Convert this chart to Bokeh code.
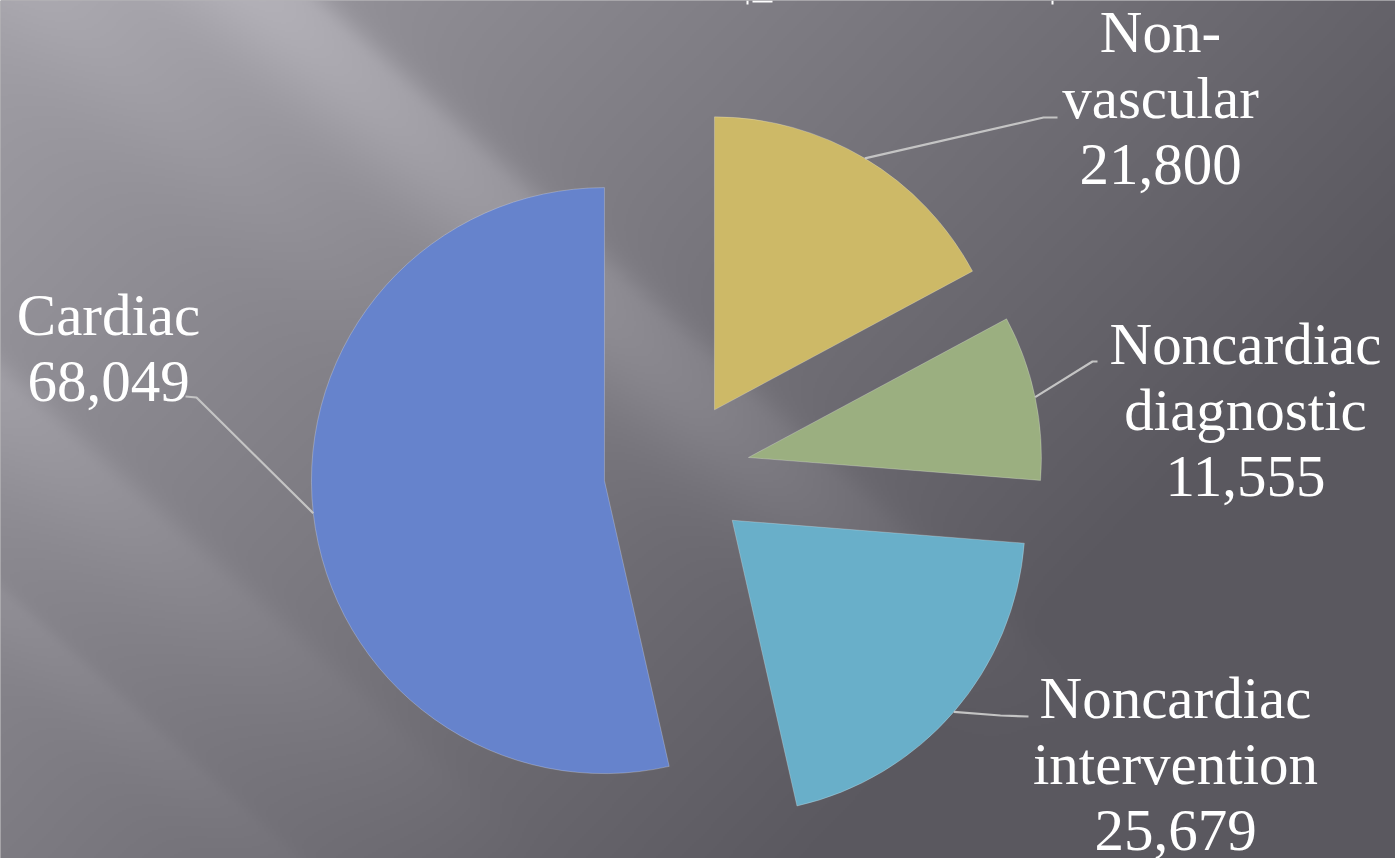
import math
import numpy as np
from bokeh.plotting import figure
from bokeh.models import Range1d, ColumnDataSource
from bokeh.core.properties import value
from bokeh.embed import file_html
from bokeh.resources import INLINE

# ---------------- data ----------------
categories = ["Non-vascular", "Noncardiac diagnostic", "Noncardiac intervention", "Cardiac"]
name_lines = [["Non-", "vascular"], ["Noncardiac", "diagnostic"], ["Noncardiac", "intervention"], ["Cardiac"]]
values = [21800, 11555, 25679, 68049]
colors = ["#CDB967", "#9BAF80", "#69AFC9", "#6683CC"]

# ---------------- layout (screen px, y down) ----------------
W, H = 1395, 858
CX, CY = 676.5, 472.0      # pie centre
R = 293                    # radius
EXPLODE = 73               # explosion distance
LINE_GAP = 66.5            # label line spacing
TEXT_SHIFT = -19           # baseline correction for renderer
# label block: centre x, first baseline y, elbow point, end point of leader
label_layout = [
    dict(x=1160, y=50, elbow=(1043, 117), end=(1057, 117)),
    dict(x=1245, y=362, elbow=(1092, 361), end=(1097, 361)),
    dict(x=1175, y=716, elbow=(1000, 715), end=(1028, 716)),
    dict(x=108, y=333, elbow=(196, 397), end=(185, 396)),
]

def Y(y):
    return H - y

p = figure(width=W, height=H, x_range=Range1d(0, W), y_range=Range1d(0, H),
           output_backend="svg", toolbar_location=None, min_border=0)
p.axis.visible = False
p.grid.visible = False
p.outline_line_color = None
p.background_fill_color = "#6a686e"
p.border_fill_color = "#6a686e"

# ---------------- background (gradient + diagonal light streaks) ----------------
hw, hh = W // 2, H // 2
xs = (np.arange(hw) + 0.5) * (W / hw)
ys = (np.arange(hh) + 0.5) * (H / hh)
X, Yg = np.meshgrid(xs, ys)
t = np.clip(0.85 * X / W + 0.5 * Yg / H, 0, 1)
light = np.array([160.0, 158.0, 165.0])
dark = np.array([90.0, 88.0, 95.0])
base = light[None, None, :] * (1 - t[..., None]) + dark[None, None, :] * t[..., None]

def streak(x0, y0, dx, dy, width, amp, length, sharp=False):
    n = math.hypot(dx, dy)
    dx, dy = dx / n, dy / n
    along = (X - x0) * dx + (Yg - y0) * dy
    perp = (X - x0) * dy - (Yg - y0) * dx
    if sharp:
        prof = np.where(perp > 0, np.exp(-(perp / (width * 0.25)) ** 2), np.exp(-(perp / width) ** 2))
    else:
        prof = np.exp(-(perp / width) ** 2)
    fade = np.clip(1 - along / length, 0, 1)
    return amp * prof * fade

add = np.zeros_like(X)
add += streak(300, 0, 0.74, 0.67, 80, 22, 1100, sharp=True)
add += streak(60, 0, 0.74, 0.67, 70, 12, 800)
add += streak(-60, 330, 0.74, 0.67, 80, 18, 800, sharp=True)
add += streak(-40, 560, 0.74, 0.67, 45, 9, 700, sharp=True)
add += streak(700, 420, 0.74, 0.67, 60, 10, 450)
img = np.clip(base + add[..., None], 0, 255).astype(np.uint8)
rgba = np.empty((hh, hw, 4), dtype=np.uint8)
rgba[..., :3] = img
rgba[..., 3] = 255
bg = np.flipud(rgba).copy().view(dtype=np.uint32).reshape(hh, hw)
p.image_rgba(image=[bg], x=0, y=0, dw=W, dh=H)

# ---------------- pie ----------------
total = float(sum(values))
cum = 0.0
wx, wy, sa, ea, mids = [], [], [], [], []
for v in values:
    a1 = cum / total * 360.0
    cum += v
    a2 = cum / total * 360.0
    mid = math.radians((a1 + a2) / 2)
    cx = CX + EXPLODE * math.sin(mid)
    cy = CY - EXPLODE * math.cos(mid)
    wx.append(cx)
    wy.append(Y(cy))
    # clockwise-from-top -> math angle
    sa.append(math.radians(90 - a2))
    ea.append(math.radians(90 - a1))
    mids.append((cx, cy, mid))

src = ColumnDataSource(dict(x=wx, y=wy, start=sa, end=ea, color=colors, name=categories))
p.wedge(x="x", y="y", radius=R, radius_units="screen", start_angle="start", end_angle="end",
        direction="anticlock", fill_color="color", line_color="white", line_alpha=0.3,
        line_width=0.8, source=src)

# ---------------- leader lines & labels ----------------
lx, ly, lt = [], [], []
for (cx, cy, mid), lay, lines, v in zip(mids, label_layout, name_lines, values):
    sx = cx + R * math.sin(mid)
    sy = cy - R * math.cos(mid)
    path_x = [sx, lay["elbow"][0], lay["end"][0]]
    path_y = [Y(sy), Y(lay["elbow"][1]), Y(lay["end"][1])]
    p.line(path_x, path_y, line_color="#c4c4c4", line_width=2.2)
    all_lines = lines + [f"{v:,}"]
    for k, s in enumerate(all_lines):
        lx.append(lay["x"])
        ly.append(Y(lay["y"] + k * LINE_GAP + TEXT_SHIFT))
        lt.append(s)

p.text(x=lx, y=ly, text=lt, text_font=value("Liberation Serif"), text_font_size="59px",
       text_color="white", text_align="center", text_baseline="alphabetic")

# small cut-off marks at the very top edge (bottom of an off-canvas title)
p.segment(x0=[747, 752, 1052], y0=[Y(0), Y(1), Y(0)], x1=[747, 772, 1052], y1=[Y(4), Y(1), Y(4)],
          line_color="white", line_width=2)

open("out.html", "w").write(file_html(p, INLINE))
